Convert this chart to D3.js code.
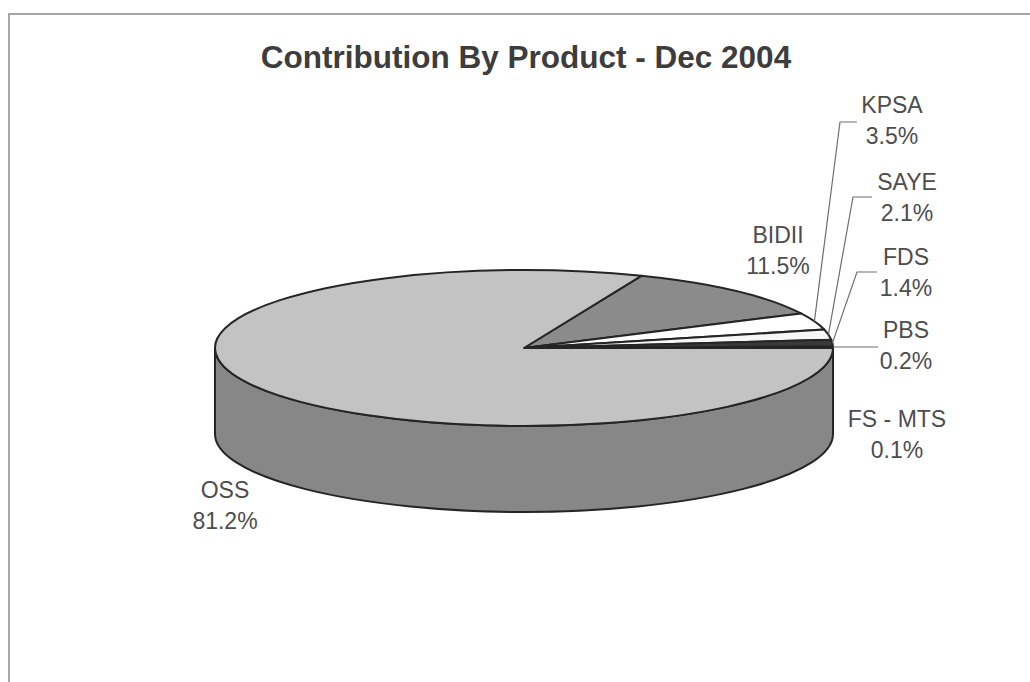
<!DOCTYPE html>
<html>
<head>
<meta charset="utf-8">
<script src="https://cdn.jsdelivr.net/npm/d3@7"></script>
<style>
  html, body { margin: 0; padding: 0; background: #ffffff; }
  svg { display: block; }
</style>
</head>
<body>
<svg id="chart" width="1030" height="682"></svg>
<script>
// Product share of contribution, Dec 2004 (percent)
const products = ["BIDII", "KPSA", "SAYE", "FDS", "PBS", "FS - MTS", "OSS"];
const shares   = [11.5, 3.5, 2.1, 1.4, 0.2, 0.1, 81.2];
const chartTitle = "Contribution By Product - Dec 2004";

// Grey shades for each slice's top face and its outer wall
const topColors  = ["#8b8b8b", "#ffffff", "#f6f6f6", "#3a3a3a", "#4a4a4a", "#5a5a5a", "#c3c3c3"];
const wallColors = ["#6a6a6a", "#c8c8c8", "#c0c0c0", "#2a2a2a", "#333333", "#444444", "#878787"];

// Ellipse geometry of the tilted pie
const cx = 524, cy = 348, rx = 309, ry = 78, depth = 86;

// Label anchors (centre x, baseline of the name line) and optional leader elbows
const labelLayout = {
  "BIDII":    { x: 778, y: 243 },
  "KPSA":     { x: 892, y: 113, elbow: [[857, 122], [840, 122]] },
  "SAYE":     { x: 907, y: 190, elbow: [[872, 197], [853, 197]] },
  "FDS":      { x: 906, y: 265, elbow: [[877, 272], [857, 272]] },
  "PBS":      { x: 906, y: 338, elbow: [[878, 347]] },
  "FS - MTS": { x: 897, y: 427 },
  "OSS":      { x: 225, y: 498 }
};

const svg = d3.select("#chart");
const fmt = d3.format(".1f");

// Chart frame
svg.append("path")
  .attr("d", "M9,682 L9,14 L1030,14")
  .attr("fill", "none")
  .attr("stroke", "#a6a6a6")
  .attr("stroke-width", 2);

// Title
svg.append("text")
  .attr("x", 526)
  .attr("y", 68)
  .attr("text-anchor", "middle")
  .attr("font-family", "Liberation Sans, Arial, sans-serif")
  .attr("font-weight", "bold")
  .attr("font-size", 31.5)
  .attr("fill", "#3d3d3d")
  .text(chartTitle);

// Angles: d3 convention (0 = 12 o'clock, clockwise); the small slices end at 3 o'clock
const smallTotal = d3.sum(shares.slice(0, 6));
const start = Math.PI / 2 - (smallTotal / d3.sum(shares)) * 2 * Math.PI;
const pie = d3.pie().sort(null).value(d => d.v)
  .startAngle(start).endAngle(start + 2 * Math.PI);
const data = products.map((p, i) => ({ name: p, v: shares[i], i }));
const arcs = pie(data);

const px = a => cx + rx * Math.sin(a);
const py = (a, dy = 0) => cy - ry * Math.cos(a) + dy;

// Outer walls: only the front half (PI/2 .. 3PI/2, plus wrap) is visible
const wallG = svg.append("g");
arcs.forEach(d => {
  const ranges = [[Math.PI / 2, 3 * Math.PI / 2], [Math.PI / 2 + 2 * Math.PI, 3 * Math.PI / 2 + 2 * Math.PI]];
  ranges.forEach(([lo, hi]) => {
    const s = Math.max(d.startAngle, lo), e = Math.min(d.endAngle, hi);
    if (e <= s) return;
    const large = (e - s) > Math.PI ? 1 : 0;
    const path = `M${px(s)},${py(s)} A${rx},${ry} 0 ${large} 1 ${px(e)},${py(e)}` +
      ` L${px(e)},${py(e, depth)} A${rx},${ry} 0 ${large} 0 ${px(s)},${py(s, depth)} Z`;
    wallG.append("path")
      .attr("d", path)
      .attr("fill", wallColors[d.data.i])
      .attr("stroke", "#252525")
      .attr("stroke-width", 2)
      .attr("stroke-linejoin", "round");
  });
});

// Top faces
const topG = svg.append("g");
arcs.forEach(d => {
  const s = d.startAngle, e = d.endAngle;
  const large = (e - s) > Math.PI ? 1 : 0;
  const path = `M${cx},${cy} L${px(s)},${py(s)} A${rx},${ry} 0 ${large} 1 ${px(e)},${py(e)} Z`;
  topG.append("path")
    .attr("d", path)
    .attr("fill", topColors[d.data.i])
    .attr("stroke", "#252525")
    .attr("stroke-width", 2)
    .attr("stroke-linejoin", "round");
});

// Leader lines from labels to the slice rims
const leadG = svg.append("g");
arcs.forEach(d => {
  const lay = labelLayout[d.data.name];
  if (!lay.elbow) return;
  const mid = (d.startAngle + d.endAngle) / 2;
  const pts = lay.elbow.concat([[px(mid), py(mid)]]);
  leadG.append("path")
    .attr("d", d3.line()(pts))
    .attr("fill", "none")
    .attr("stroke", "#6e6e6e")
    .attr("stroke-width", 1.2);
});

// Category and percentage labels
const labG = svg.append("g")
  .attr("font-family", "Liberation Sans, Arial, sans-serif")
  .attr("font-size", 23)
  .attr("fill", "#4d4d4d")
  .attr("text-anchor", "middle");
arcs.forEach(d => {
  const lay = labelLayout[d.data.name];
  labG.append("text").attr("x", lay.x).attr("y", lay.y).text(d.data.name);
  labG.append("text").attr("x", lay.x).attr("y", lay.y + 31).text(fmt(d.data.v) + "%");
});
</script>
</body>
</html>
